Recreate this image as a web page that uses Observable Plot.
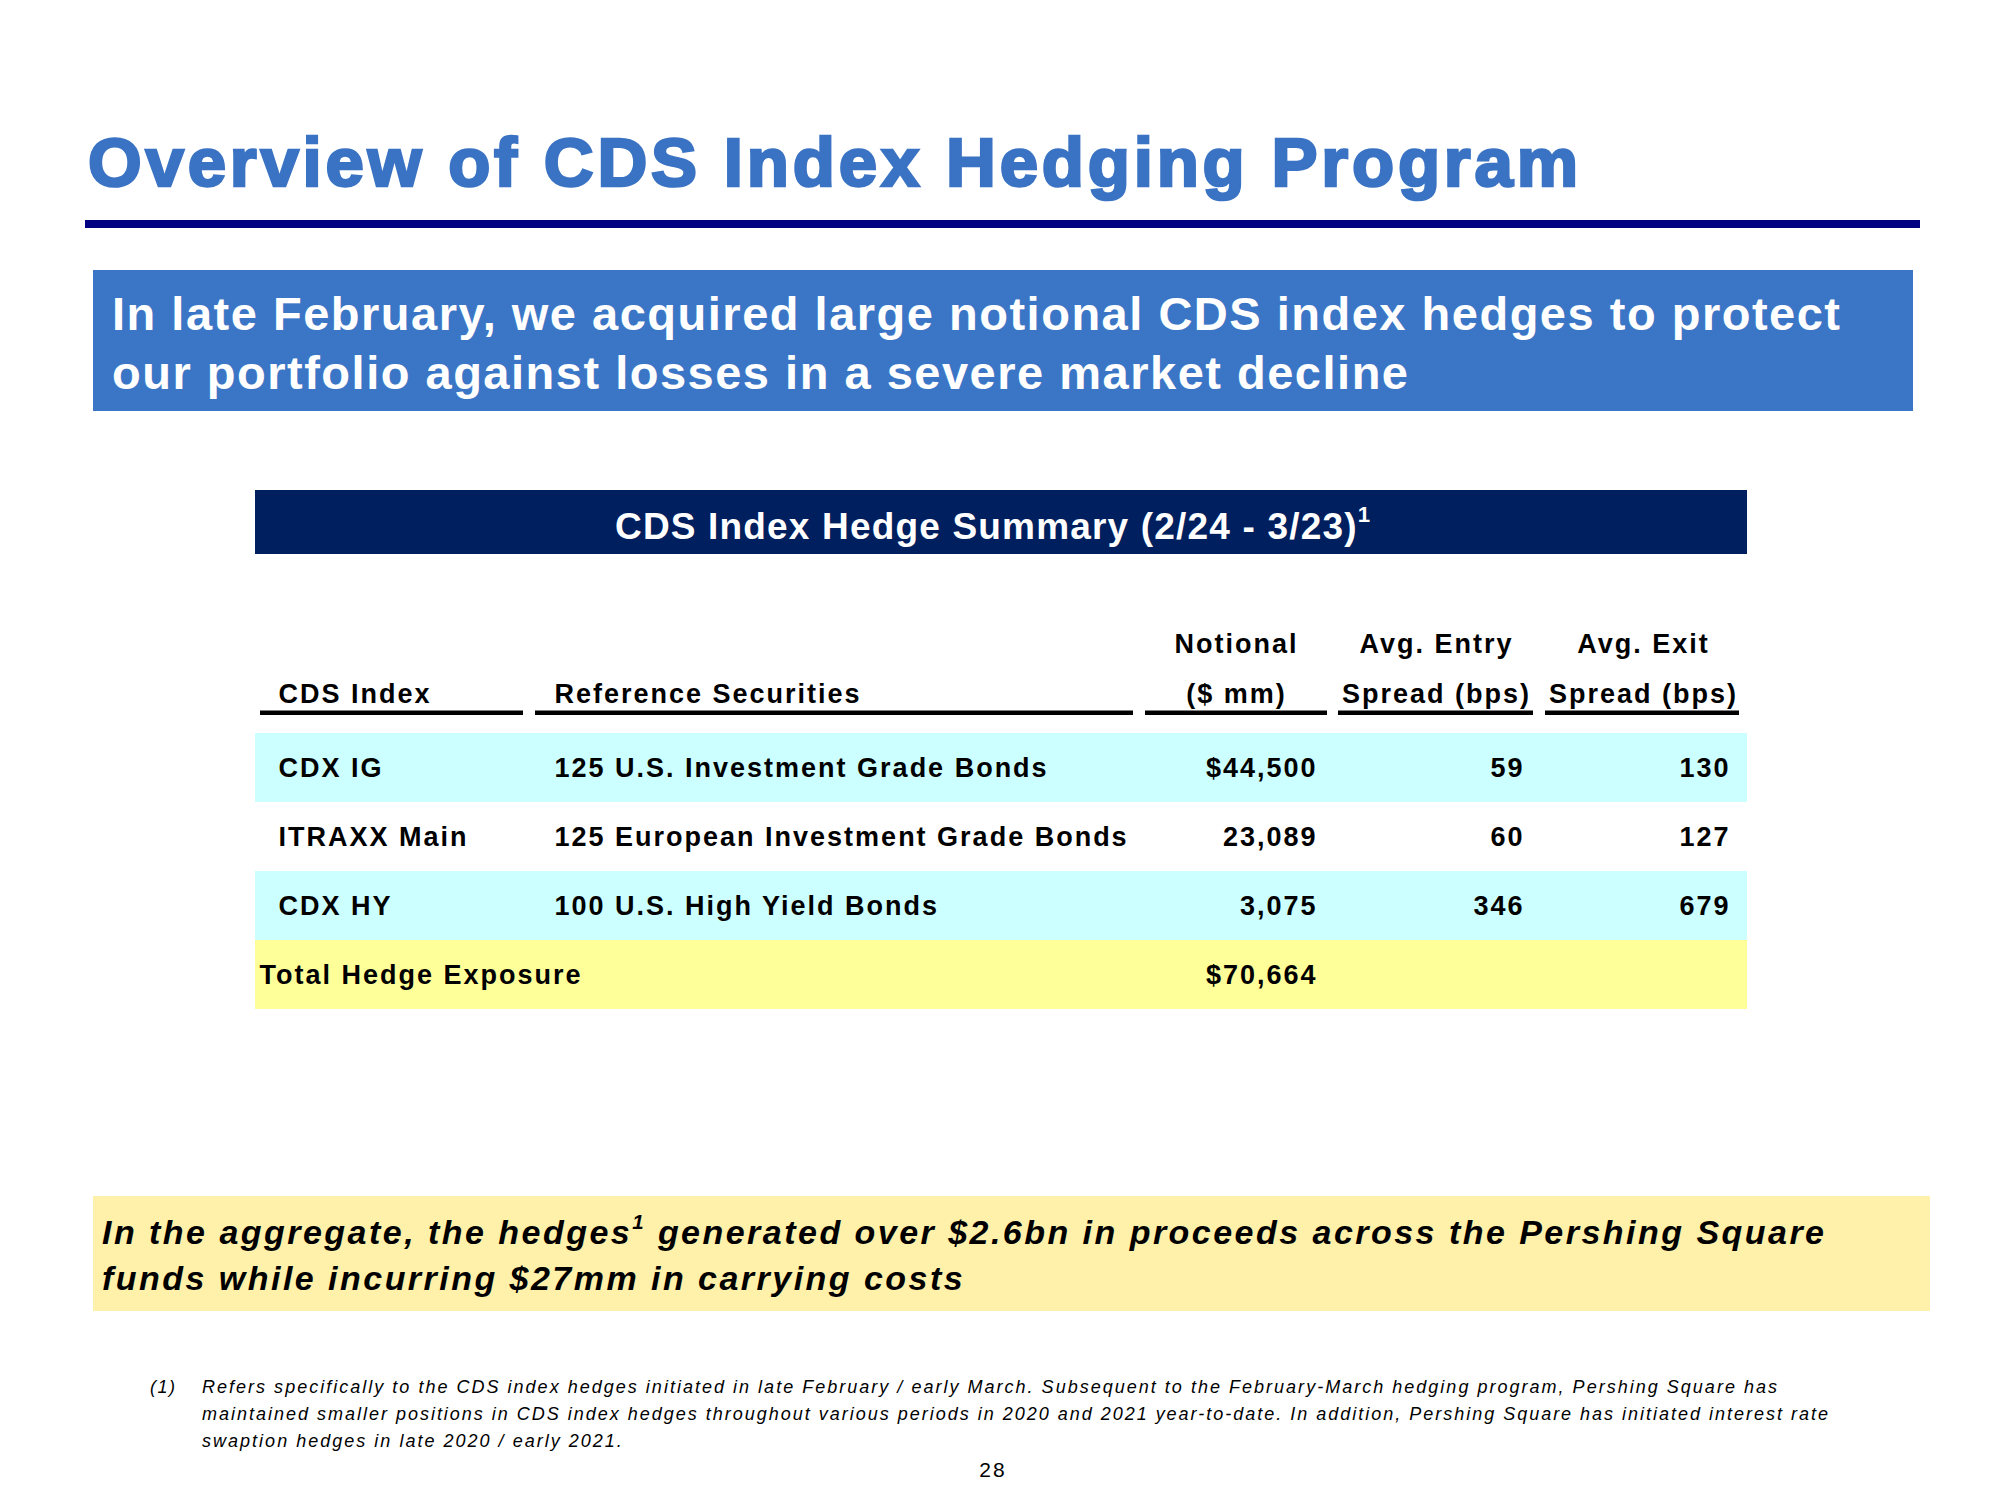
<!DOCTYPE html>
<html>
<head>
<meta charset="utf-8">
<script src="https://cdn.jsdelivr.net/npm/d3@7"></script>
<script src="https://cdn.jsdelivr.net/npm/@observablehq/plot@0.6"></script>
<style>
html, body { margin: 0; padding: 0; background: #ffffff; }
#page { position: relative; width: 2000px; height: 1500px; overflow: hidden; font-family: "Liberation Sans", Arial, sans-serif; }
.abs { position: absolute; white-space: nowrap; line-height: 1; }
.box { position: absolute; }
.sup { position: relative; font-size: 0.6em; top: -0.75em; }
#table { position: absolute; left: 0; top: 600px; }
</style>
</head>
<body>
<div id="page"></div>
<script>
// ---------------- data ----------------
const slideTitle = "Overview of CDS Index Hedging Program";
const bannerLines = [
  "In late February, we acquired large notional CDS index hedges to protect",
  "our portfolio against losses in a severe market decline"
];
const tableTitle = "CDS Index Hedge Summary (2/24 - 3/23)";
const tableTitleNote = "1";
const headerLine1 = ["", "", "Notional", "Avg. Entry", "Avg. Exit"];
const headerLine2 = ["CDS Index", "Reference Securities", "($ mm)", "Spread (bps)", "Spread (bps)"];
const cdsIndex = ["CDX IG", "ITRAXX Main", "CDX HY"];
const referenceSecurities = [
  "125 U.S. Investment Grade Bonds",
  "125 European Investment Grade Bonds",
  "100 U.S. High Yield Bonds"
];
const notional = [44500, 23089, 3075];
const avgEntrySpread = [59, 60, 346];
const avgExitSpread = [130, 127, 679];
const totalLabel = "Total Hedge Exposure";
const totalNotional = 70664;
const takeawayLines = [
  ["In the aggregate, the hedges", "1", " generated over $2.6bn in proceeds across the Pershing Square"],
  ["funds while incurring $27mm in carrying costs"]
];
const footnoteMarker = "(1)";
const footnoteLines = [
  "Refers specifically to the CDS index hedges initiated in late February / early March. Subsequent to the February-March hedging program, Pershing Square has",
  "maintained smaller positions in CDS index hedges throughout various periods in 2020 and 2021 year-to-date. In addition, Pershing Square has initiated interest rate",
  "swaption hedges in late 2020 / early 2021."
];
const pageNumber = "28";

// ---------------- styles / layout ----------------
const C = {
  title: "#3A73C3", rule: "#000080", banner: "#3B76C6", tableHead: "#001F5F",
  cyan: "#CCFFFF", white: "#FFFFFF", totalRow: "#FFFF99", takeaway: "#FFF0AA"
};
const page = document.getElementById("page");

function box(x1, y1, x2, y2, color) {
  const d = document.createElement("div");
  d.className = "box";
  Object.assign(d.style, {left: x1 + "px", top: y1 + "px", width: (x2 - x1) + "px", height: (y2 - y1) + "px", background: color});
  page.appendChild(d);
}
function esc(s) { return s.replace(/&/g, "&amp;").replace(/</g, "&lt;"); }
function text(parts, o) {
  const d = document.createElement("div");
  d.className = "abs";
  const html = (Array.isArray(parts) ? parts : [parts]).map((p, i) => i % 2 === 1 ? `<span class="sup">${esc(p)}</span>` : esc(p)).join("");
  d.innerHTML = html;
  Object.assign(d.style, {
    fontSize: o.size + "px", fontWeight: o.weight || "bold", fontStyle: o.style || "normal",
    color: o.color || "#000", left: "0px", top: (o.baseline - 0.8465 * o.size) + "px"
  });
  if (o.stroke) { d.style.webkitTextStroke = o.stroke + "px " + (o.color || "#000"); }
  page.appendChild(d);
  const n = d.textContent.length;
  let ls = o.ls || 0;
  if (o.target) {
    const w0 = d.getBoundingClientRect().width;
    ls = (o.target - w0) / (n - 1);
  }
  d.style.letterSpacing = ls + "px";
  const w = d.getBoundingClientRect().width - ls;
  d.style.left = (o.anchor === "middle" ? o.x - w / 2 : o.x) + "px";
  return ls;
}

// title + rule
text(slideTitle, {x: 88, baseline: 186, size: 69, color: C.title, target: 1490, stroke: 2.6});
box(85, 220, 1920, 228, C.rule);

// banner
box(93, 270, 1913, 411, C.banner);
const bls = text(bannerLines[0], {x: 112, baseline: 330, size: 47, color: "#fff", target: 1728});
text(bannerLines[1], {x: 112, baseline: 389, size: 47, color: "#fff", ls: bls});

// table title band
box(255, 490, 1747, 554, C.tableHead);
text([tableTitle, tableTitleNote], {x: 615, baseline: 539, size: 37, color: "#fff", target: 755});

// takeaway box
box(93, 1196, 1930, 1311, C.takeaway);
const tls = text(takeawayLines[0], {x: 102, baseline: 1244, size: 34, style: "italic", target: 1722});
text(takeawayLines[1], {x: 102, baseline: 1290, size: 34, style: "italic", ls: tls});

// footnote
text(footnoteMarker, {x: 150, baseline: 1393, size: 18, weight: "normal", style: "italic", ls: 1.5});
const fls = text(footnoteLines[0], {x: 202, baseline: 1393, size: 18, weight: "normal", style: "italic", target: 1575});
text(footnoteLines[1], {x: 202, baseline: 1420, size: 18, weight: "normal", style: "italic", target: 1626});
text(footnoteLines[2], {x: 202, baseline: 1447, size: 18, weight: "normal", style: "italic", ls: fls});
text(pageNumber, {x: 992, baseline: 1477, size: 21, weight: "normal", ls: 2, anchor: "middle"});

// ---------------- table (Observable Plot) ----------------
const rowKeys = [...cdsIndex, totalLabel];
const rowFill = [C.cyan, C.white, C.cyan, C.totalRow];
const fmt = d3.format(",");
const tableRows = rowKeys.map((k, i) => {
  const isTotal = i === cdsIndex.length;
  const v = isTotal ? totalNotional : notional[i];
  return {
    key: k, isTotal, fill: rowFill[i],
    ref: isTotal ? "" : referenceSecurities[i],
    notionalText: (i === 0 || isTotal ? "$" : "") + fmt(v),
    entry: isTotal ? "" : String(avgEntrySpread[i]),
    exit: isTotal ? "" : String(avgExitSpread[i])
  };
});
const colLayout = [
  {x1: 260, x2: 523, tx: 278, anchor: "start"},
  {x1: 535, x2: 1133, tx: 554, anchor: "start"},
  {x1: 1145, x2: 1327, tx: 1236, anchor: "middle"},
  {x1: 1338, x2: 1533, tx: 1436, anchor: "middle"},
  {x1: 1545, x2: 1739, tx: 1643, anchor: "middle"}
];
const headers = colLayout.map((c, i) => ({...c, l1: headerLine1[i], l2: headerLine2[i]}));
const startH = headers.filter(d => d.anchor === "start");
const midH = headers.filter(d => d.anchor === "middle");
const dataRows = tableRows.filter(d => !d.isTotal);
const totalRows = tableRows.filter(d => d.isTotal);

const textOpts = {fontSize: 27, fontWeight: "bold", fill: "#000", lineAnchor: "middle"};
const chart = Plot.plot({
  width: 2000, height: 420, margin: 0,
  x: {type: "linear", domain: [0, 2000], range: [0, 2000], axis: null},
  y: {type: "band", domain: rowKeys, range: [132, 410], padding: 0, axis: null},
  color: {type: "identity"},
  style: {fontFamily: "'Liberation Sans', Arial, sans-serif", letterSpacing: "2px", background: "transparent", overflow: "visible"},
  marks: [
    Plot.barX(tableRows, {x1: 255, x2: 1747, y: "key", fill: "fill"}),
    Plot.rect(headers, {x1: "x1", x2: "x2", fill: "#000", insetTop: 110.5, insetBottom: 305}),
    Plot.text(startH, {x: "tx", text: "l2", frameAnchor: "top", dy: 94, textAnchor: "start", ...textOpts}),
    Plot.text(midH, {x: "tx", text: "l1", frameAnchor: "top", dy: 44, textAnchor: "middle", ...textOpts}),
    Plot.text(midH, {x: "tx", text: "l2", frameAnchor: "top", dy: 94, textAnchor: "middle", ...textOpts}),
    Plot.text(dataRows, {x: 278, y: "key", text: "key", textAnchor: "start", ...textOpts}),
    Plot.text(totalRows, {x: 259, y: "key", text: "key", textAnchor: "start", ...textOpts}),
    Plot.text(tableRows, {x: 554, y: "key", text: "ref", textAnchor: "start", ...textOpts}),
    Plot.text(tableRows, {x: 1317, y: "key", text: "notionalText", textAnchor: "end", ...textOpts}),
    Plot.text(tableRows, {x: 1524, y: "key", text: "entry", textAnchor: "end", ...textOpts}),
    Plot.text(tableRows, {x: 1730, y: "key", text: "exit", textAnchor: "end", ...textOpts})
  ]
});
chart.id = "table";
page.appendChild(chart);
</script>
</body>
</html>
